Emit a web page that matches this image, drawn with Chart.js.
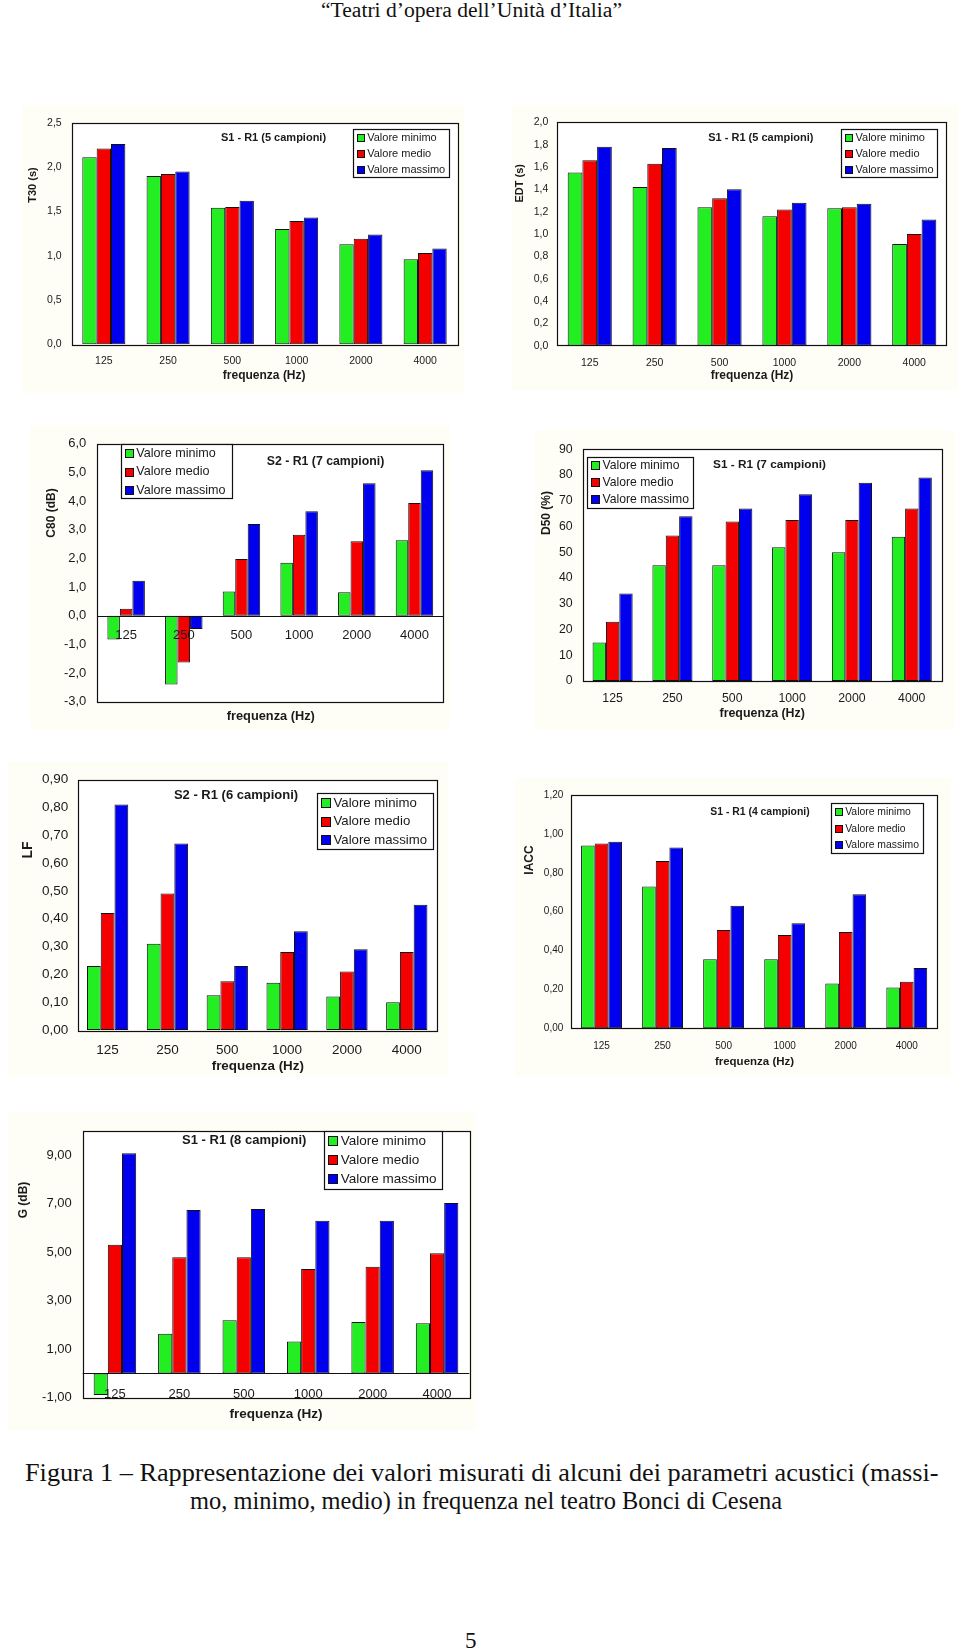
<!DOCTYPE html>
<html><head><meta charset="utf-8">
<script src="https://cdn.jsdelivr.net/npm/chart.js@4.4.1/dist/chart.umd.min.js"></script>
<style>
html,body{margin:0;padding:0;background:#fff;}
body{width:960px;height:1652px;position:relative;overflow:hidden;}
canvas{position:absolute;}
.pt{position:absolute;font-family:"Liberation Serif","Times New Roman",serif;color:#111;white-space:nowrap;transform-origin:0 50%;line-height:1;}
</style></head><body>
<div class="pt" data-x0="321" data-x1="622" data-cy="10" style="font-size:20px">“Teatri d’opera dell’Unità d’Italia”</div>
<div class="pt" data-x0="25" data-x1="939" data-cy="1472" style="font-size:25px">Figura 1 – Rappresentazione dei valori misurati di alcuni dei parametri acustici (massi-</div>
<div class="pt" data-x0="190" data-x1="782" data-cy="1500" style="font-size:25px">mo, minimo, medio) in frequenza nel teatro Bonci di Cesena</div>
<div class="pt" data-x0="465" data-x1="477" data-cy="1640" style="font-size:23px">5</div>
<canvas id="c1"></canvas><canvas id="c2"></canvas><canvas id="c3"></canvas><canvas id="c4"></canvas>
<canvas id="c5"></canvas><canvas id="c6"></canvas><canvas id="c7"></canvas>
<script>
// ---------- DATA ----------
const freqLabels = ['125','250','500','1000','2000','4000'];
const seriesNames = ['Valore minimo','Valore medio','Valore massimo'];

const t30Min = [2.11, 1.90, 1.54, 1.30, 1.13, 0.96];
const t30Med = [2.21, 1.92, 1.55, 1.39, 1.19, 1.03];
const t30Max = [2.26, 1.95, 1.62, 1.43, 1.24, 1.08];
const t30Ticks = [0, 0.5, 1.0, 1.5, 2.0, 2.5];

const edtMin = [1.55, 1.42, 1.24, 1.16, 1.23, 0.91];
const edtMed = [1.66, 1.63, 1.32, 1.22, 1.24, 1.00];
const edtMax = [1.78, 1.77, 1.40, 1.28, 1.27, 1.13];
const edtTicks = [0, 0.2, 0.4, 0.6, 0.8, 1.0, 1.2, 1.4, 1.6, 1.8, 2.0];

const c80Min = [-0.83, -2.40, 0.85, 1.85, 0.82, 2.63];
const c80Med = [0.24, -1.63, 1.98, 2.83, 2.60, 3.93];
const c80Max = [1.22, -0.46, 3.20, 3.65, 4.62, 5.08];
const c80Ticks = [-3, -2, -1, 0, 1, 2, 3, 4, 5, 6];

const d50Min = [15, 45, 45, 52, 50, 56];
const d50Med = [23, 56.5, 62, 62.5, 62.5, 67];
const d50Max = [34, 64, 67, 72.5, 77, 79];
const d50Ticks = [0, 10, 20, 30, 40, 50, 60, 70, 80, 90];

const lfMin = [0.23, 0.31, 0.125, 0.17, 0.12, 0.10];
const lfMed = [0.42, 0.49, 0.175, 0.28, 0.21, 0.28];
const lfMax = [0.81, 0.67, 0.23, 0.355, 0.29, 0.45];
const lfTicks = [0, 0.1, 0.2, 0.3, 0.4, 0.5, 0.6, 0.7, 0.8, 0.9];

const iaccMin = [0.94, 0.73, 0.355, 0.355, 0.23, 0.21];
const iaccMed = [0.95, 0.86, 0.505, 0.48, 0.495, 0.24];
const iaccMax = [0.96, 0.93, 0.63, 0.54, 0.69, 0.31];
const iaccTicks = [0, 0.2, 0.4, 0.6, 0.8, 1.0, 1.2];

const gMin = [-0.89, 1.64, 2.19, 1.32, 2.12, 2.07];
const gMed = [5.30, 4.79, 4.79, 4.30, 4.40, 4.95];
const gMax = [9.07, 6.74, 6.78, 6.29, 6.29, 7.02];
const gTicks = [-1, 1, 3, 5, 7, 9];

// ---------- STYLE / LAYOUT ----------
const FONT = '"Liberation Sans", Arial, sans-serif';
const COLORS = ['#22ee22', '#f40000', '#0000ee'];
const INK = '#1a1a1a';

const specs = [
 {id:'c1', box:[22,105,442,288], plot:[71.7,122.7,457.3,344.3], data:[t30Min,t30Med,t30Max], ticks:t30Ticks, min:0, max:2.5, dec:1, cat:0.67,
  tickFont:10.5, xPad:11, yPad:10, title:'S1 - R1 (5 campioni)', titleFont:11, titlePos:[273.5,138],
  legend:[352.7,129.3,448.3,177.3], legendFont:11, yTitle:'T30 (s)', yTitleFont:11, yTitlePos:[33.3,185], xTitleFont:12, xTitlePos:[264.2,376], xAtZero:false},
 {id:'c2', box:[512,105,446,285], plot:[557.3,122.3,946.7,345.7], data:[edtMin,edtMed,edtMax], ticks:edtTicks, min:0, max:2.0, dec:1, cat:0.68,
  tickFont:10.5, xPad:11, yPad:9, title:'S1 - R1 (5 campioni)', titleFont:11, titlePos:[760.8,138],
  legend:[841,129.3,937.3,177.3], legendFont:11, yTitle:'EDT (s)', yTitleFont:11, yTitlePos:[520,183.3], xTitleFont:12, xTitlePos:[752,376], xAtZero:false},
 {id:'c3', box:[30,425,420,305], plot:[97.3,441,443.3,701.7], data:[c80Min,c80Med,c80Max], ticks:c80Ticks, min:-3, max:6, dec:1, cat:0.65,
  tickFont:13, xPad:11.5, yPad:11, title:'S2 - R1 (7 campioni)', titleFont:12.3, titlePos:[325.5,461.7],
  legend:[120.7,444.3,231.3,498.7], legendFont:12.6, yTitle:'C80 (dB)', yTitleFont:12, yTitlePos:[51.7,513], xTitleFont:12.8, xTitlePos:[270.8,716.7], xAtZero:true},
 {id:'c4', box:[535,430,420,300], plot:[582.7,449.3,941.7,681], data:[d50Min,d50Med,d50Max], ticks:d50Ticks, min:0, max:90, dec:0, cat:0.67,
  tickFont:12.3, xPad:10.5, yPad:10, title:'S1 - R1 (7 campioni)', titleFont:11.8, titlePos:[769.5,465],
  legend:[587,456.7,693.3,507.3], legendFont:12.2, yTitle:'D50 (%)', yTitleFont:12, yTitlePos:[546.7,513], xTitleFont:12.4, xTitlePos:[762.2,714], xAtZero:false},
 {id:'c5', box:[8,762,440,315], plot:[77.7,778.3,436.7,1030], data:[lfMin,lfMed,lfMax], ticks:lfTicks, min:0, max:0.9, dec:2, cat:0.69,
  tickFont:13.5, xPad:12.6, yPad:9.4, title:'S2 - R1 (6 campioni)', titleFont:13, titlePos:[236,795.7],
  legend:[317,793.3,432.7,849.3], legendFont:13.2, yTitle:'LF', yTitleFont:14, yTitlePos:[28.3,850], xTitleFont:13.4, xTitlePos:[257.8,1066], xAtZero:false},
 {id:'c6', box:[515,778,436,298], plot:[571,795,937.3,1028.3], data:[iaccMin,iaccMed,iaccMax], ticks:iaccTicks, min:0, max:1.2, dec:2, cat:0.67,
  tickFont:10, xPad:12.2, yPad:7.7, title:'S1 - R1 (4 campioni)', titleFont:10.4, titlePos:[760,812.3],
  legend:[830.7,803,922.7,853.3], legendFont:10.4, yTitle:'IACC', yTitleFont:12, yTitlePos:[530,860], xTitleFont:11.5, xTitlePos:[754.5,1062], xAtZero:false},
 {id:'c7', box:[8,1112,468,318], plot:[82.7,1121,469.3,1397.7], data:[gMin,gMed,gMax], ticks:gTicks, min:-1, max:10, dec:2, cat:0.66,
  tickFont:13, xPad:12.9, yPad:11, title:'S1 - R1 (8 campioni)', titleFont:13, titlePos:[244.2,1140],
  legend:[324.3,1130.7,442.7,1188.3], legendFont:13.5, yTitle:'G (dB)', yTitleFont:12, yTitlePos:[23.3,1200], xTitleFont:13.5, xTitlePos:[276,1414], xAtZero:true}
];

function makeDeco(sp) {
  const ox = sp.box[0], oy = sp.box[1];
  return {
    id: 'deco_' + sp.id,
    beforeDraw(chart) {
      const {ctx, chartArea: a} = chart;
      ctx.save();
      ctx.fillStyle = '#fffef6';
      ctx.fillRect(0, 0, chart.width, chart.height);
      ctx.fillStyle = '#ffffff';
      ctx.fillRect(a.left, a.top, a.right - a.left, a.bottom - a.top);
      ctx.restore();
    },
    afterDatasetsDraw(chart) {
      const {ctx, chartArea: a, scales} = chart;
      ctx.save();
      ctx.strokeStyle = '#111';
      ctx.lineWidth = 1.2;
      if (sp.xAtZero) {
        const y0 = Math.round(scales.y.getPixelForValue(0)) + 0.5;
        ctx.beginPath(); ctx.moveTo(a.left, y0); ctx.lineTo(a.right, y0); ctx.stroke();
      }
      ctx.strokeRect(Math.round(a.left) + 0.5, Math.round(a.top) + 0.5, Math.round(a.right - a.left), Math.round(a.bottom - a.top));
      ctx.restore();
    },
    afterDraw(chart) {
      const ctx = chart.ctx;
      ctx.save();
      ctx.fillStyle = INK;
      ctx.font = 'bold ' + sp.titleFont + 'px ' + FONT;
      ctx.textAlign = 'center'; ctx.textBaseline = 'middle';
      ctx.fillText(sp.title, sp.titlePos[0] - ox, sp.titlePos[1] - oy);
      ctx.font = 'bold ' + sp.xTitleFont + 'px ' + FONT;
      ctx.fillText('frequenza (Hz)', sp.xTitlePos[0] - ox, sp.xTitlePos[1] - oy);
      ctx.save();
      ctx.translate(sp.yTitlePos[0] - ox, sp.yTitlePos[1] - oy);
      ctx.rotate(-Math.PI / 2);
      ctx.font = 'bold ' + sp.yTitleFont + 'px ' + FONT;
      ctx.fillText(sp.yTitle, 0, 0);
      ctx.restore();
      const [lx0, ly0, lx1, ly1] = sp.legend;
      const bx = lx0 - ox, by = ly0 - oy, bw = lx1 - lx0, bh = ly1 - ly0;
      ctx.fillStyle = '#ffffff';
      ctx.fillRect(bx, by, bw, bh);
      ctx.strokeStyle = '#111'; ctx.lineWidth = 1.2;
      ctx.strokeRect(Math.round(bx) + 0.5, Math.round(by) + 0.5, Math.round(bw), Math.round(bh));
      const rowH = bh / 3;
      const s = Math.round(sp.legendFont * 0.66);
      ctx.font = sp.legendFont + 'px ' + FONT;
      ctx.textAlign = 'left'; ctx.textBaseline = 'middle';
      chart.data.datasets.forEach((ds, i) => {
        const cy = by + rowH * (i + 0.5);
        const sx = Math.round(bx + 4) + 0.5, sy = Math.round(cy - s / 2) + 0.5;
        ctx.fillStyle = ds.backgroundColor;
        ctx.fillRect(sx, sy, s, s);
        ctx.strokeStyle = '#111'; ctx.lineWidth = 1;
        ctx.strokeRect(sx, sy, s, s);
        ctx.fillStyle = INK;
        ctx.fillText(ds.label, bx + 4 + s + 3.5, cy + 0.5);
      });
      ctx.restore();
    }
  };
}

function build(sp) {
  const cv = document.getElementById(sp.id);
  const [l, t, w, h] = sp.box;
  const [px0, py0, px1, py1] = sp.plot;
  cv.width = w; cv.height = h;
  cv.style.left = l + 'px'; cv.style.top = t + 'px';
  cv.style.width = w + 'px'; cv.style.height = h + 'px';
  const leftSpace = px0 - l;
  const bottomSpace = (t + h) - py1;
  new Chart(cv, {
    type: 'bar',
    data: {
      labels: freqLabels,
      datasets: sp.data.map((arr, i) => ({
        label: seriesNames[i],
        data: arr,
        backgroundColor: COLORS[i],
        borderColor: '#111',
        borderWidth: 1,
        borderSkipped: false,
        barPercentage: 1.0,
        categoryPercentage: sp.cat
      }))
    },
    options: {
      responsive: false,
      animation: false,
      devicePixelRatio: 1,
      layout: { padding: { left: 0, top: py0 - t, right: (l + w) - px1, bottom: sp.xAtZero ? bottomSpace : 0 } },
      plugins: { legend: { display: false }, title: { display: false }, tooltip: { enabled: false } },
      scales: {
        x: {
          type: 'category',
          position: sp.xAtZero ? { y: 0 } : 'bottom',
          grid: { display: false, drawTicks: false },
          border: { display: false },
          ticks: { color: INK, font: { family: FONT, size: sp.tickFont }, padding: sp.xPad, maxRotation: 0, autoSkip: false, z: sp.xAtZero ? 1 : 0 },
          afterFit: s => { if (!sp.xAtZero) s.height = bottomSpace; }
        },
        y: {
          type: 'linear',
          min: sp.min, max: sp.max,
          grid: { display: false, drawTicks: false },
          border: { display: false },
          ticks: { color: INK, font: { family: FONT, size: sp.tickFont }, padding: sp.yPad,
                   callback: v => Number(v).toFixed(sp.dec).replace('.', ',') },
          afterBuildTicks: s => { s.ticks = sp.ticks.map(v => ({ value: v })); },
          afterFit: s => { s.width = leftSpace; }
        }
      }
    },
    plugins: [makeDeco(sp)]
  });
}
specs.forEach(build);

document.querySelectorAll('.pt').forEach(el => {
  const x0 = +el.dataset.x0, x1 = +el.dataset.x1, cy = +el.dataset.cy;
  const wdt = el.offsetWidth, hgt = el.offsetHeight;
  el.style.left = x0 + 'px';
  el.style.top = (cy - hgt / 2) + 'px';
  el.style.transform = 'scaleX(' + ((x1 - x0) / wdt) + ')';
});
</script>
</body></html>
